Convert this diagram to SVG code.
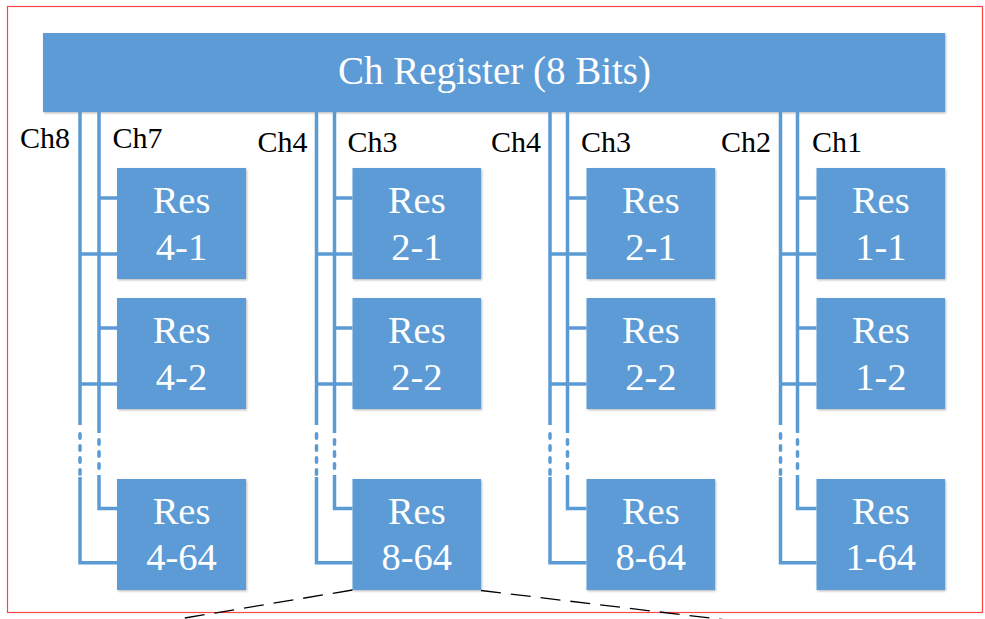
<svg xmlns="http://www.w3.org/2000/svg" width="985" height="619" viewBox="0 0 985 619">
  <defs>
    <filter id="shadow" x="-5%" y="-5%" width="110%" height="110%">
      <feDropShadow dx="1" dy="1.2" stdDeviation="0.8" flood-color="#000" flood-opacity="0.28"/>
    </filter>
  </defs>
  <style>
    .box { fill: #5B9BD5; filter: url(#shadow); }
    .wire { fill: none; stroke: #5B9BD5; stroke-width: 3.5; }
    .dots { fill: none; stroke: #5B9BD5; stroke-width: 3.5; stroke-linecap: round; stroke-dasharray: 4.5 7.5; }
    .res { font-family: "Liberation Serif", "Times New Roman", serif; font-size: 38.5px; fill: #fff; text-anchor: middle; }
    .title { font-family: "Liberation Serif", "Times New Roman", serif; font-size: 39px; fill: #fff; text-anchor: middle; }
    .ch { font-family: "Liberation Serif", "Times New Roman", serif; font-size: 30px; fill: #000; }
    .zoom { fill: none; stroke: #000; stroke-width: 1.3; stroke-dasharray: 20 10; }
  </style>

  <rect x="0" y="0" width="985" height="619" fill="#fff"/>
  <!-- outer frame -->
  <rect x="7.5" y="6.5" width="975" height="606" fill="none" stroke="#f44" stroke-width="1.2"/>

  <!-- register bar -->
  <g id="register">
    <rect class="box" x="43" y="33" width="902" height="79"/>
    <text class="title" x="494.5" y="84">Ch Register (8 Bits)</text>
  </g>

  <!-- channel wires -->
  <g id="connectors">
    <!-- column 1: Ch8 / Ch7 -->
    <path class="wire" d="M80 112 V425 M80 477 V562.7 H117 M80 254 H117 M80 384 H117"/>
    <path class="dots" d="M80 433.75 V474.25"/>
    <path class="wire" d="M99 112 V433 M99 475 V508.5 H117 M99 198 H117 M99 328 H117"/>
    <path class="dots" d="M99 439.75 V468.25"/>
    <!-- column 2: Ch4 / Ch3 -->
    <path class="wire" d="M316.5 112 V425 M316.5 477 V562.7 H352.5 M316.5 254 H352.5 M316.5 384 H352.5"/>
    <path class="dots" d="M316.5 433.75 V474.25"/>
    <path class="wire" d="M334.5 112 V433 M334.5 475 V508.5 H352.5 M334.5 198 H352.5 M334.5 328 H352.5"/>
    <path class="dots" d="M334.5 439.75 V468.25"/>
    <!-- column 3: Ch4 / Ch3 -->
    <path class="wire" d="M550 112 V425 M550 477 V562.7 H586.5 M550 254 H586.5 M550 384 H586.5"/>
    <path class="dots" d="M550 433.75 V474.25"/>
    <path class="wire" d="M567.5 112 V433 M567.5 475 V508.5 H586.5 M567.5 198 H586.5 M567.5 328 H586.5"/>
    <path class="dots" d="M567.5 439.75 V468.25"/>
    <!-- column 4: Ch2 / Ch1 -->
    <path class="wire" d="M780.5 112 V425 M780.5 477 V562.7 H816.5 M780.5 254 H816.5 M780.5 384 H816.5"/>
    <path class="dots" d="M780.5 433.75 V474.25"/>
    <path class="wire" d="M797.5 112 V433 M797.5 475 V508.5 H816.5 M797.5 198 H816.5 M797.5 328 H816.5"/>
    <path class="dots" d="M797.5 439.75 V468.25"/>
  </g>

  <!-- channel labels -->
  <g id="labels">
    <text class="ch" x="20" y="148">Ch8</text>
    <text class="ch" x="112.5" y="148">Ch7</text>
    <text class="ch" x="257.5" y="152">Ch4</text>
    <text class="ch" x="347.5" y="152">Ch3</text>
    <text class="ch" x="491" y="152">Ch4</text>
    <text class="ch" x="581" y="152">Ch3</text>
    <text class="ch" x="721" y="152">Ch2</text>
    <text class="ch" x="812" y="152">Ch1</text>
  </g>

  <!-- column 1 resistors -->
  <g id="res-4-1"><rect class="box" x="117" y="168" width="129" height="111"/><text class="res" x="181.5" y="213">Res</text><text class="res" x="181.5" y="260">4-1</text></g>
  <g id="res-4-2"><rect class="box" x="117" y="298" width="129" height="111"/><text class="res" x="181.5" y="343">Res</text><text class="res" x="181.5" y="390">4-2</text></g>
  <g id="res-4-64"><rect class="box" x="117" y="479" width="129" height="111"/><text class="res" x="181.5" y="523.5">Res</text><text class="res" x="181.5" y="570">4-64</text></g>

  <!-- column 2 resistors -->
  <g id="res-2-1-a"><rect class="box" x="352.5" y="168" width="128.5" height="111"/><text class="res" x="416.8" y="213">Res</text><text class="res" x="416.8" y="260">2-1</text></g>
  <g id="res-2-2-a"><rect class="box" x="352.5" y="298" width="128.5" height="111"/><text class="res" x="416.8" y="343">Res</text><text class="res" x="416.8" y="390">2-2</text></g>
  <g id="res-8-64-a"><rect class="box" x="352.5" y="479" width="128.5" height="111"/><text class="res" x="416.8" y="523.5">Res</text><text class="res" x="416.8" y="570">8-64</text></g>

  <!-- column 3 resistors -->
  <g id="res-2-1-b"><rect class="box" x="586.5" y="168" width="128.5" height="111"/><text class="res" x="650.8" y="213">Res</text><text class="res" x="650.8" y="260">2-1</text></g>
  <g id="res-2-2-b"><rect class="box" x="586.5" y="298" width="128.5" height="111"/><text class="res" x="650.8" y="343">Res</text><text class="res" x="650.8" y="390">2-2</text></g>
  <g id="res-8-64-b"><rect class="box" x="586.5" y="479" width="128.5" height="111"/><text class="res" x="650.8" y="523.5">Res</text><text class="res" x="650.8" y="570">8-64</text></g>

  <!-- column 4 resistors -->
  <g id="res-1-1"><rect class="box" x="816.5" y="168" width="128.5" height="111"/><text class="res" x="880.8" y="213">Res</text><text class="res" x="880.8" y="260">1-1</text></g>
  <g id="res-1-2"><rect class="box" x="816.5" y="298" width="128.5" height="111"/><text class="res" x="880.8" y="343">Res</text><text class="res" x="880.8" y="390">1-2</text></g>
  <g id="res-1-64"><rect class="box" x="816.5" y="479" width="128.5" height="111"/><text class="res" x="880.8" y="523.5">Res</text><text class="res" x="880.8" y="570">1-64</text></g>

  <!-- expansion lines from Res 8-64 -->
  <g id="zoom-lines">
    <path class="zoom" d="M352.5 590 L143 625"/>
    <path class="zoom" d="M481 590.5 L768 625"/>
  </g>
</svg>
